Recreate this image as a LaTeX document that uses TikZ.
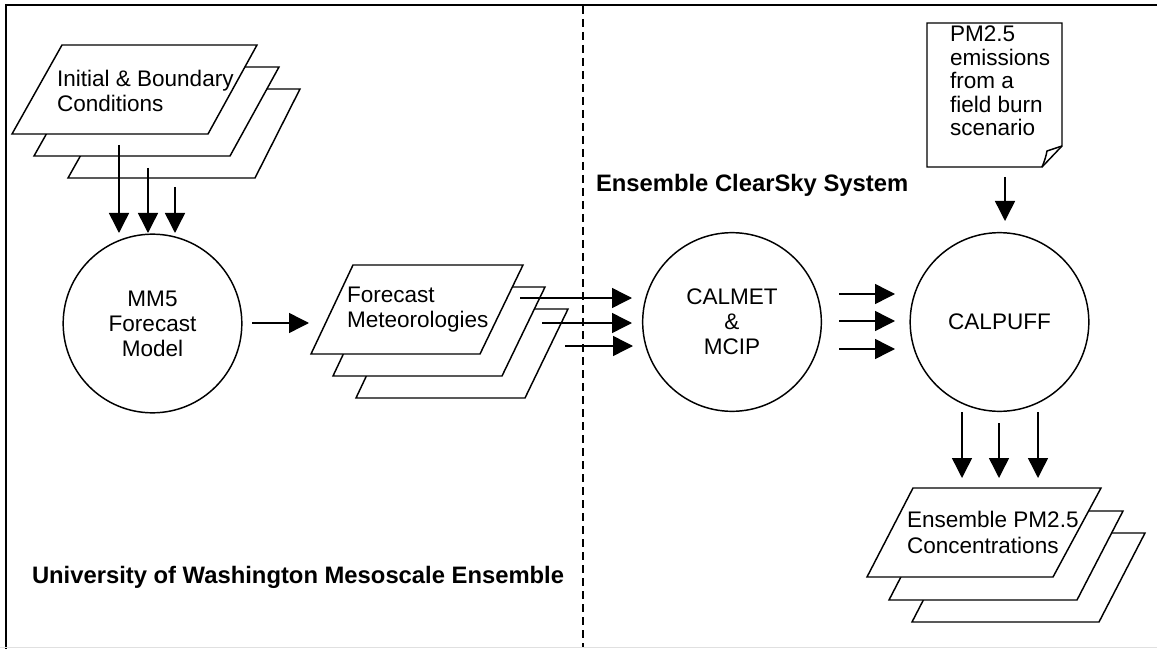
\documentclass[tikz,border=0pt]{standalone}
\usepackage{fontspec}
\setmainfont{Liberation Sans}
\usetikzlibrary{arrows.meta}
\begin{document}
\begin{tikzpicture}[x=0.75pt,y=-0.75pt,
  line width=1.1pt, line join=miter,
  every node/.style={inner sep=0pt, outer sep=0pt},
  lbl/.style={font=\fontsize{16.9}{19}\selectfont, align=left, anchor=west},
  doctext/.style={font=\fontsize{16.9}{17.6}\selectfont, align=left, anchor=west},
  proc/.style={circle, draw, line width=1.1pt, minimum size=134pt, font=\fontsize{16.9}{18.75}\selectfont, align=center},
  flow/.style={-{Triangle[length=15pt,width=15pt]}, line width=1.1pt},
  layer/.style={draw, fill=white, line width=1.1pt},
  paneltitle/.style={font=\fontsize{17.85}{20}\selectfont\bfseries, anchor=west}
]
\useasboundingbox (0,0) rectangle (1157,649);
\fill[white] (0,0) rectangle (1157,649);
% frame
\draw[line width=1.5pt] (5.5,649) -- (5.5,5.5) -- (1157,5.5);
\draw[line width=0.75pt, black!12] (0,647.5) -- (1157,647.5);
\draw[dash pattern=on 6pt off 3.75pt, line width=1.1pt] (583,6) -- (583,647);

% Initial & Boundary Conditions
\draw[layer] (118,89) -- (300,89) -- (255,178) -- (68,178) -- cycle;
\draw[layer] (84,67) -- (279,67) -- (230,156) -- (34,156) -- cycle;
\draw[layer] (62,45) -- (257,45) -- (208,134) -- (12,134) -- cycle;
\node[lbl] (ibc) at (57,91) {Initial \& Boundary\\Conditions};

% MM5
\node[proc] (mm5) at (152.5,323.5) {MM5\\Forecast\\Model};
\coordinate (ia1) at (119,145); \coordinate (ib1) at (119,233);
\coordinate (ia2) at (148,168); \coordinate (ib2) at (148,233);
\coordinate (ia3) at (175,187); \coordinate (ib3) at (175,233);
\draw[flow] (ia1) -- (ib1);
\draw[flow] (ia2) -- (ib2);
\draw[flow] (ia3) -- (ib3);

% Forecast Meteorologies
\draw[layer] (398,309) -- (568,309) -- (525,398) -- (356,398) -- cycle;
\draw[layer] (375,287) -- (545,287) -- (502,376) -- (333,376) -- cycle;
\draw[layer] (353,265) -- (523,265) -- (480,354) -- (311,354) -- cycle;
\node[lbl] (fm) at (347,309.5) {Forecast\\Meteorologies};
\coordinate (ma) at (252,323); \coordinate (mb) at (309,323);
\draw[flow] (ma) -- (mb);

% CALMET
\node[proc] (calmet) at (732,322) {CALMET\\\&\\MCIP};
\coordinate (fa1) at (520,298); \coordinate (fb1) at (632,298);
\coordinate (fa2) at (542,323); \coordinate (fb2) at (632,323);
\coordinate (fa3) at (565,346); \coordinate (fb3) at (633,346);
\draw[flow] (fa1) -- (fb1);
\draw[flow] (fa2) -- (fb2);
\draw[flow] (fa3) -- (fb3);

% CALPUFF
\node[proc] (calpuff) at (999.5,322) {CALPUFF};
\coordinate (ca1) at (839,294); \coordinate (cb1) at (895,294);
\coordinate (ca2) at (839,321); \coordinate (cb2) at (895,321);
\coordinate (ca3) at (839,349); \coordinate (cb3) at (895,349);
\draw[flow] (ca1) -- (cb1);
\draw[flow] (ca2) -- (cb2);
\draw[flow] (ca3) -- (cb3);

% emissions document
\draw[fill=white] (927,23) -- (1062,23) -- (1062,146) -- (1042,167) -- (927,167) -- cycle;
\draw (1042,167) .. controls (1045,160) and (1046,156) .. (1047,151) -- (1062,146);
\node[doctext] (doc) at (950,81) {PM2.5\\emissions\\from a\\field burn\\scenario};
\coordinate (da) at (1005,177); \coordinate (db) at (1005,221);
\draw[flow] (da) -- (db);

% Ensemble PM2.5 Concentrations
\draw[layer] (958,533) -- (1145,533) -- (1099,622) -- (912,622) -- cycle;
\draw[layer] (935,511) -- (1123,511) -- (1077,600) -- (889,600) -- cycle;
\draw[layer] (913,488) -- (1101,488) -- (1053,577) -- (867,577) -- cycle;
\node[lbl] (conc) at (907,532.5) {Ensemble PM2.5\\Concentrations};
\coordinate (pa1) at (962,412); \coordinate (pb1) at (962,478);
\coordinate (pa2) at (999,423); \coordinate (pb2) at (999,478);
\coordinate (pa3) at (1038,412); \coordinate (pb3) at (1038,478);
\draw[flow] (pa1) -- (pb1);
\draw[flow] (pa2) -- (pb2);
\draw[flow] (pa3) -- (pb3);

% panel titles
\node[paneltitle] (ecs) at (596,185) {Ensemble ClearSky System};
\node[paneltitle] (uw) at (32,577) {University of Washington Mesoscale Ensemble};
\end{tikzpicture}
\end{document}
